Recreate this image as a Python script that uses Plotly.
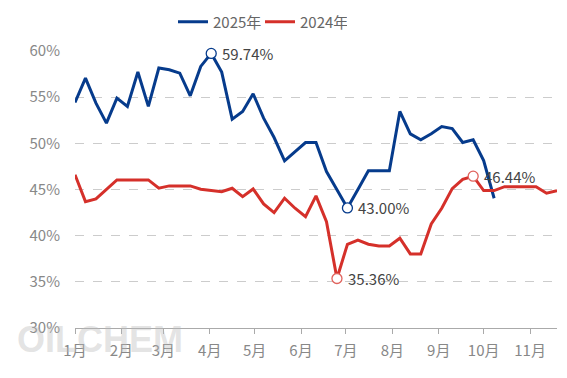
import plotly.graph_objects as go

# ---- data ----
dates = [
    "2025-01-01", "2025-01-08", "2025-01-15", "2025-01-22", "2025-01-29",
    "2025-02-05", "2025-02-12", "2025-02-19", "2025-02-26",
    "2025-03-05", "2025-03-12", "2025-03-19", "2025-03-26",
    "2025-04-02", "2025-04-09", "2025-04-16", "2025-04-23", "2025-04-30",
    "2025-05-07", "2025-05-14", "2025-05-21", "2025-05-28",
    "2025-06-04", "2025-06-11", "2025-06-18", "2025-06-25",
    "2025-07-02", "2025-07-09", "2025-07-16", "2025-07-23", "2025-07-30",
    "2025-08-06", "2025-08-13", "2025-08-20", "2025-08-27",
    "2025-09-03", "2025-09-10", "2025-09-17", "2025-09-24",
    "2025-10-01", "2025-10-08", "2025-10-15", "2025-10-22", "2025-10-29",
    "2025-11-05", "2025-11-12", "2025-11-19",
]
month_ticks = ["2025-01-01", "2025-02-01", "2025-03-01", "2025-04-01", "2025-05-01",
               "2025-06-01", "2025-07-01", "2025-08-01", "2025-09-01", "2025-10-01",
               "2025-11-01"]
month_labels = ["1月", "2月", "3月", "4月", "5月", "6月", "7月", "8月", "9月", "10月", "11月"]
y_ticks = [30, 35, 40, 45, 50, 55, 60]

rate_2025 = [54.43, 57.07, 54.36, 52.19, 54.90, 54.00, 57.72, 54.00, 58.16, 57.97,
             57.60, 55.15, 58.33, 59.74, 57.72, 52.62, 53.45, 55.37, 52.73, 50.63,
             48.10, 49.10, 50.09, 50.09, 46.94, 44.97, 43.00, 44.99, 47.02, 47.02,
             47.02, 53.45, 51.03, 50.38, 51.03, 51.82, 51.60, 50.09, 50.38, 48.14,
             44.05]
rate_2024 = [46.60, 43.69, 43.98, 45.03, 46.04, 46.04, 46.04, 46.04, 45.14, 45.39,
             45.39, 45.39, 45.03, 44.88, 44.77, 45.14, 44.23, 45.06, 43.44, 42.50,
             44.06, 42.97, 42.06, 44.31, 41.52, 35.36, 39.07, 39.53, 39.07, 38.88,
             38.88, 39.72, 38.02, 38.02, 41.27, 42.97, 45.10, 46.10, 46.44, 44.88,
             44.88, 45.31, 45.31, 45.31, 45.31, 44.60, 44.88]
mark_2025 = [13, 26]
mark_2024 = [25, 38]

BLUE = "#063b8c"
RED = "#d5302a"
FONT = "Noto Sans CJK SC, Noto Sans, sans-serif"

# page body has an 8px default margin, so the figure is 16px smaller than the window
W, H = 551, 362

fig = go.Figure()
fig.add_trace(go.Scatter(x=dates[:len(rate_2025)], y=rate_2025, mode="lines", name="2025年",
                         line=dict(color=BLUE, width=3)))
fig.add_trace(go.Scatter(x=dates[:len(rate_2024)], y=rate_2024, mode="lines", name="2024年",
                         line=dict(color=RED, width=3)))

for series, marks, color in [(rate_2025, mark_2025, BLUE), (rate_2024, mark_2024, "#e0625c")]:
    fig.add_trace(go.Scatter(
        x=[dates[i] for i in marks], y=[series[i] for i in marks], mode="markers",
        marker=dict(size=10, color="white", line=dict(color=color, width=1.3)),
        showlegend=False, cliponaxis=False, hoverinfo="skip"))
    for i in marks:
        fig.add_annotation(x=dates[i], y=series[i], text=f"{series[i]:.2f}%",
                           xanchor="left", yanchor="middle", xshift=9, showarrow=False,
                           font=dict(family=FONT, size=15, color="#444444"))

# watermark
fig.add_annotation(xref="paper", yref="paper", x=-0.125, y=-0.04, xanchor="left",
                   yanchor="middle", text="<b>OILCHEM</b>", showarrow=False,
                   font=dict(family="Liberation Sans, Arial, sans-serif", size=36,
                             color="rgba(185,185,185,0.4)"))

fig.update_layout(
    width=W, height=H,
    margin=dict(l=67, r=2, t=43, b=42, autoexpand=False),
    plot_bgcolor="white", paper_bgcolor="white",
    font=dict(family=FONT, size=15, color="#888888"),
    showlegend=True,
    legend=dict(orientation="h", xref="container", yref="container",
                x=165 / W, xanchor="left", y=1 - 14 / H, yanchor="middle",
                font=dict(family=FONT, size=15, color="#666666"),
                itemwidth=30, entrywidth=42, entrywidthmode="pixels",
                bgcolor="rgba(0,0,0,0)"),
    xaxis=dict(type="date", range=["2025-01-01", "2025-11-19"],
               tickvals=month_ticks, ticktext=month_labels,
               ticks="outside", ticklen=5, tickcolor="#aaaaaa",
               showline=True, linecolor="#aaaaaa", linewidth=1,
               showgrid=False, zeroline=False, ticklabelstandoff=4,
               tickfont=dict(family=FONT, size=15, color="#888888")),
    yaxis=dict(range=[30, 60], tickvals=y_ticks, ticktext=[f"{v}%" for v in y_ticks],
               showgrid=True, gridcolor="#cccccc", griddash="dash", gridwidth=1,
               zeroline=False, showline=False, ticks="",
               ticklabelstandoff=14,
               tickfont=dict(family=FONT, size=15, color="#888888")),
    hovermode=False,
)

fig.write_html("out.html")
